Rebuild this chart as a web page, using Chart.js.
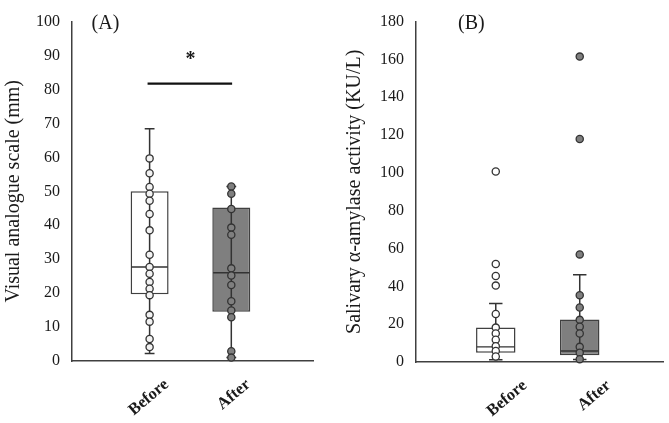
<!DOCTYPE html>
<html>
<head>
<meta charset="utf-8">
<script src="https://cdn.jsdelivr.net/npm/chart.js@4.4.1/dist/chart.umd.min.js"></script>
<style>
  html, body { margin: 0; padding: 0; background: #fff; }
  #wrap { position: relative; width: 669px; height: 423px; }
  canvas { position: absolute; top: 0; }
  #chartA { left: 0; }
  #chartB { left: 330px; }
</style>
</head>
<body>
<div id="wrap">
  <canvas id="chartA" width="330" height="423"></canvas>
  <canvas id="chartB" width="339" height="423"></canvas>
</div>
<script>
// === Daten ===
const groups = ["Before", "After"];
const groupX = [1, 2];

// (A) Visual analogue scale
const vasBefore = [59.7, 55.3, 51.3, 49.3, 47.2, 43.3, 38.5, 31.3, 27.7, 25.7, 23.3, 21.3, 19.4, 13.6, 11.6, 6.5, 4.1];
const vasAfter = [51.4, 49.3, 44.8, 39.3, 37.2, 27.3, 25.2, 22.4, 17.6, 14.9, 12.9, 2.9, 1.0];
const vasMin = [2.2, 1.0];
const vasQ1 = [19.7, 14.5];
const vasMed = [27.7, 26.0];
const vasQ3 = [50.0, 45.2];
const vasMax = [68.4, 51.4];
const vasTicks = [0, 10, 20, 30, 40, 50, 60, 70, 80, 90, 100];
const sigLineX = [0.975, 2.01];
const sigLineY = 81.7;

// (B) Salivary alpha-amylase
const amyBefore = [100.7, 51.8, 45.5, 40.4, 25.4, 18.2, 15.1, 11.8, 8.3, 5.8, 2.9];
const amyAfter = [161.5, 117.9, 56.9, 35.3, 28.8, 22.3, 18.7, 15.1, 8.0, 4.9, 1.5];
const amyMin = [1.2, 1.3];
const amyQ1 = [4.9, 3.6];
const amyMed = [8.0, 5.8];
const amyQ3 = [18.2, 22.5];
const amyMax = [31.0, 46.2];
const amyTicks = [0, 20, 40, 60, 80, 100, 120, 140, 160, 180];

// === Stil ===
const FONT = "'Liberation Serif', 'Times New Roman', serif";
const INK = "#1a1a1a";
const LINE = "#333333";
const GREY = "#7f7f7f";

// Text-Annotationen ((A), (B), Stern) in Datenkoordinaten
const annotPlugin = {
  id: "annot",
  afterDraw(chart, args, opts) {
    const { ctx, scales } = chart;
    ctx.save();
    (opts.items || []).forEach((it) => {
      ctx.font = it.font;
      ctx.fillStyle = INK;
      ctx.textAlign = "center";
      ctx.textBaseline = "middle";
      ctx.fillText(it.text, scales.x.getPixelForValue(it.x), scales.y.getPixelForValue(it.y));
    });
    ctx.restore();
  },
};

function buildConfig(p) {
  const half = p.boxWidth / 2;
  const whiskers = [];
  const medians = [];
  groupX.forEach((gx, i) => {
    whiskers.push({ x: gx, y: p.min[i] }, { x: gx, y: p.max[i] }, { x: gx, y: null });
    whiskers.push({ x: gx - p.cap, y: p.max[i] }, { x: gx + p.cap, y: p.max[i] }, { x: gx, y: null });
    whiskers.push({ x: gx - p.cap, y: p.min[i] }, { x: gx + p.cap, y: p.min[i] }, { x: gx, y: null });
    medians.push({ x: gx - half + 0.01, y: p.med[i] }, { x: gx + half - 0.01, y: p.med[i] }, { x: gx, y: null });
  });

  const datasets = [
    {
      type: "scatter",
      data: p.before.map((v) => ({ x: groupX[0], y: v })),
      pointRadius: 3.6,
      pointBorderWidth: 1.3,
      pointBackgroundColor: p.beforeFill,
      pointBorderColor: LINE,
      clip: false,
      order: 0,
    },
    {
      type: "scatter",
      data: p.after.map((v) => ({ x: groupX[1], y: v })),
      pointRadius: 3.6,
      pointBorderWidth: 1.3,
      pointBackgroundColor: GREY,
      pointBorderColor: LINE,
      clip: false,
      order: 0,
    },
    {
      type: "line",
      data: whiskers,
      borderColor: LINE,
      borderWidth: 1.5,
      pointRadius: 0,
      spanGaps: false,
      clip: false,
      order: 1,
    },
    {
      type: "line",
      data: medians,
      borderColor: LINE,
      borderWidth: 1.4,
      pointRadius: 0,
      spanGaps: false,
      order: 1,
    },
    {
      type: "bar",
      data: groupX.map((gx, i) => ({ x: gx, y: [p.q1[i], p.q3[i]] })),
      backgroundColor: ["#ffffff", GREY],
      borderColor: "#404040",
      borderWidth: 1.5,
      borderSkipped: false,
      barPercentage: p.boxWidth,
      categoryPercentage: 1,
      order: 2,
    },
  ];

  if (p.sig) {
    datasets.push({
      type: "line",
      data: p.sig.x.map((x) => ({ x, y: p.sig.y })),
      borderColor: "#111",
      borderWidth: 2.2,
      pointRadius: 0,
      order: 1,
    });
  }

  return {
    type: "bar",
    data: { datasets },
    plugins: [annotPlugin],
    options: {
      responsive: false,
      animation: false,
      layout: { padding: { top: p.padTop, right: p.padRight, left: 0, bottom: 0 } },
      plugins: {
        legend: { display: false },
        tooltip: { enabled: false },
        annot: { items: p.annot },
      },
      scales: {
        x: {
          type: "linear",
          min: 0.05,
          max: 3,
          offset: false,
          grid: { display: false, drawTicks: false },
          border: { color: "#404040", width: 1.5 },
          afterBuildTicks: (axis) => {
            axis.ticks = groupX.map((v) => ({ value: v }));
          },
          afterFit: (scale) => {
            scale.height = p.xHeight;
          },
          ticks: {
            autoSkip: false,
            minRotation: 40,
            maxRotation: 40,
            labelOffset: p.labelOffset,
            padding: 14,
            color: INK,
            font: { family: FONT, size: 16.5, weight: "bold" },
            callback: (v) => groups[groupX.indexOf(v)] || "",
          },
        },
        y: {
          min: p.ticks[0],
          max: p.ticks[p.ticks.length - 1],
          grid: { display: false, drawTicks: false },
          border: { color: "#404040", width: 1.5 },
          afterBuildTicks: (axis) => {
            axis.ticks = p.ticks.map((v) => ({ value: v }));
          },
          afterFit: (scale) => {
            scale.width = p.yWidth;
          },
          ticks: {
            padding: 12,
            color: INK,
            font: { family: FONT, size: 16 },
          },
          title: {
            display: true,
            text: p.title,
            color: INK,
            font: { family: FONT, size: 20 },
            padding: { top: p.titlePad, bottom: 0 },
          },
        },
      },
    },
  };
}

// === Init ===
new Chart(document.getElementById("chartA"), buildConfig({
  before: vasBefore, after: vasAfter,
  min: vasMin, q1: vasQ1, med: vasMed, q3: vasQ3, max: vasMax,
  ticks: vasTicks,
  title: "Visual analogue scale (mm)",
  boxWidth: 0.465, cap: 0.06, beforeFill: "#f2f2f2",
  sig: { x: sigLineX, y: sigLineY },
  annot: [
    { text: "(A)", x: 0.46, y: 99.5, font: "20px " + FONT },
    { text: "*", x: 1.5, y: 88.6, font: "bold 20px " + FONT },
  ],
  padTop: 9, padRight: 17, xHeight: 62, yWidth: 72, titlePad: 2, labelOffset: 17,
}));

new Chart(document.getElementById("chartB"), buildConfig({
  before: amyBefore, after: amyAfter,
  min: amyMin, q1: amyQ1, med: amyMed, q3: amyQ3, max: amyMax,
  ticks: amyTicks,
  title: "Salivary \u03b1-amylase activity (KU/L)",
  boxWidth: 0.47, cap: 0.08, beforeFill: "#ffffff",
  annot: [
    { text: "(B)", x: 0.71, y: 179.1, font: "20px " + FONT },
  ],
  padTop: 9, padRight: 4, xHeight: 61, yWidth: 86, titlePad: 13, labelOffset: 29,
}));
</script>
</body>
</html>
